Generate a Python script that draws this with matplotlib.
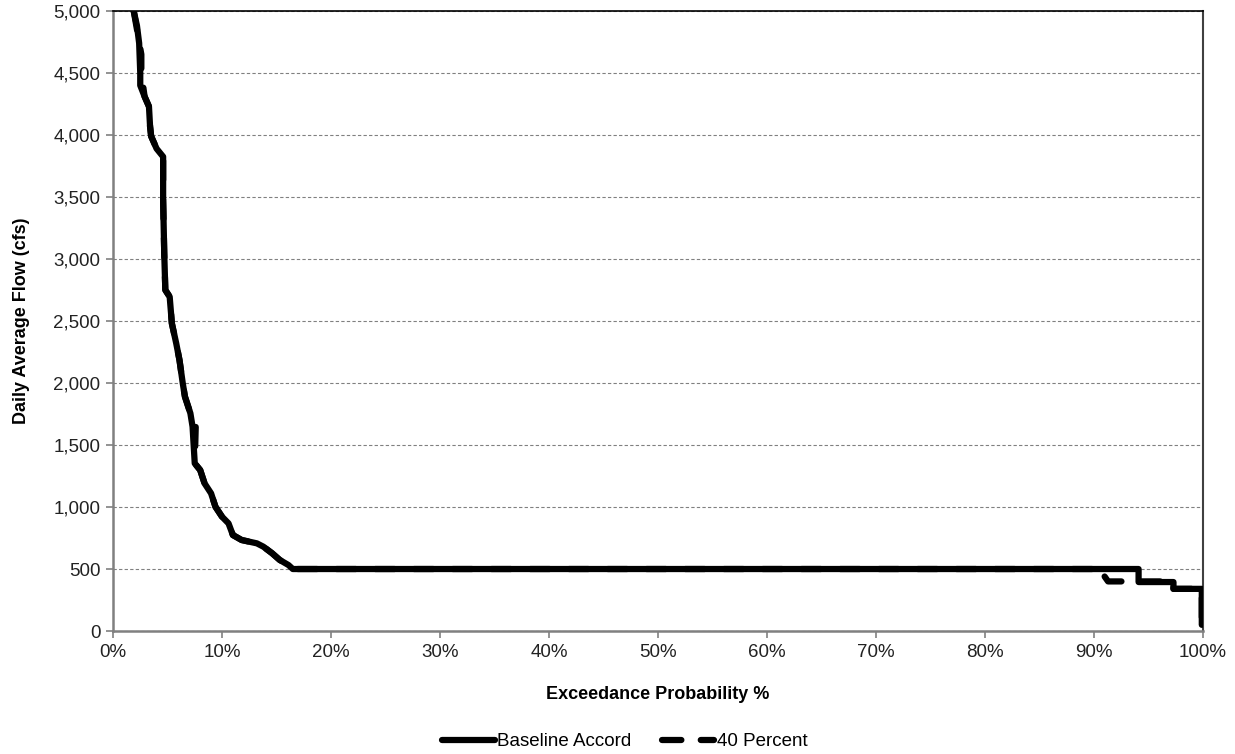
import matplotlib
matplotlib.use("Agg")
import matplotlib.pyplot as plt
from matplotlib.ticker import FuncFormatter, MultipleLocator

plt.rcParams['font.family'] = ['Liberation Sans', 'DejaVu Sans']

# flow duration curve, exceedance % vs daily average flow (cfs)
base_pct = [1.9, 2.2, 2.4, 2.5, 2.5, 2.9, 3.3, 3.4, 3.5, 4.0, 4.6, 4.6, 4.7, 4.8,
            5.2, 5.4, 5.8, 6.1, 6.4, 6.6, 7.1, 7.3, 7.5, 8.0, 8.4, 9.0, 9.4, 10.0,
            10.6, 11.0, 11.8, 13.2, 13.8, 14.6, 15.3, 16.1, 16.5, 30.0, 60.0, 90.0,
            94.1, 94.1, 97.3, 97.3, 99.9, 99.9]
base_cfs = [5000, 4880, 4740, 4500, 4400, 4310, 4230, 4070, 3990, 3890, 3825, 3475, 3050, 2750,
            2696, 2481, 2320, 2185, 1998, 1890, 1756, 1648, 1352, 1298, 1191, 1110, 1002, 922,
            868, 774, 734, 707, 680, 627, 573, 532, 500, 500, 500, 500,
            500, 395, 395, 340, 340, 50]

alt_pct = [1.9, 2.3, 2.6, 2.6, 2.9, 3.3, 3.4, 3.5, 4.0, 4.6, 4.6, 4.7, 4.8,
           5.2, 5.4, 5.8, 6.1, 6.4, 6.6, 7.1, 7.6, 7.5, 8.0, 8.4, 9.0, 9.4, 10.0,
           10.6, 11.0, 11.8, 13.2, 13.8, 14.6, 15.3, 16.1, 16.5, 30.0, 60.0, 90.9,
           90.9, 91.3, 97.3, 97.3, 99.9, 99.9]
alt_cfs = [5000, 4800, 4650, 4500, 4310, 4230, 4070, 3990, 3890, 3825, 3475, 3050, 2750,
           2696, 2481, 2320, 2185, 1998, 1890, 1756, 1680, 1352, 1298, 1191, 1110, 1002, 922,
           868, 774, 734, 707, 680, 627, 573, 532, 500, 500, 500, 500,
           450, 400, 400, 340, 340, 50]

fig = plt.figure(figsize=(12.35, 7.54), dpi=100)
ax = fig.add_axes([0.0915, 0.1631, 0.8825, 0.8223])

ax.plot(alt_pct, alt_cfs, color='black', lw=4.5, ls=(0, (3.1, 3.1)),
        solid_capstyle='round', dash_capstyle='round', label='40 Percent', zorder=3)
ax.plot(base_pct, base_cfs, color='black', lw=4.5, solid_capstyle='round',
        label='Baseline Accord', zorder=4)

ax.set_xlim(0, 100)
ax.set_ylim(0, 5000)
ax.xaxis.set_major_locator(MultipleLocator(10))
ax.yaxis.set_major_locator(MultipleLocator(500))
ax.xaxis.set_major_formatter(FuncFormatter(lambda v, p: f'{v:.0f}%'))
ax.yaxis.set_major_formatter(FuncFormatter(lambda v, p: f'{v:,.0f}'))
ax.grid(axis='y', color='#808080', ls=(0, (3, 2)), lw=0.8)
ax.set_axisbelow(True)

ax.tick_params(labelsize=13.5, colors='#808080', labelcolor='#222222',
               direction='out', length=5, width=1.2, pad=4)
for side in ['left', 'bottom']:
    ax.spines[side].set_color('#808080')
    ax.spines[side].set_linewidth(1.8)
ax.spines['top'].set_color('black')
ax.spines['top'].set_linewidth(1.2)
ax.spines['right'].set_color('#404040')
ax.spines['right'].set_linewidth(1.5)

ax.set_xlabel('Exceedance Probability %', fontsize=13, fontweight='bold', labelpad=18)
ax.set_ylabel('Daily Average Flow (cfs)', fontsize=13, fontweight='bold', labelpad=17)

handles, labels = ax.get_legend_handles_labels()
fig.legend(handles[::-1], labels[::-1], loc='center', bbox_to_anchor=(0.506, 0.016),
           ncol=2, frameon=False, fontsize=13.5, handlelength=2.8,
           handletextpad=0.15, columnspacing=1.6)

fig.savefig('out.png', dpi=100)
